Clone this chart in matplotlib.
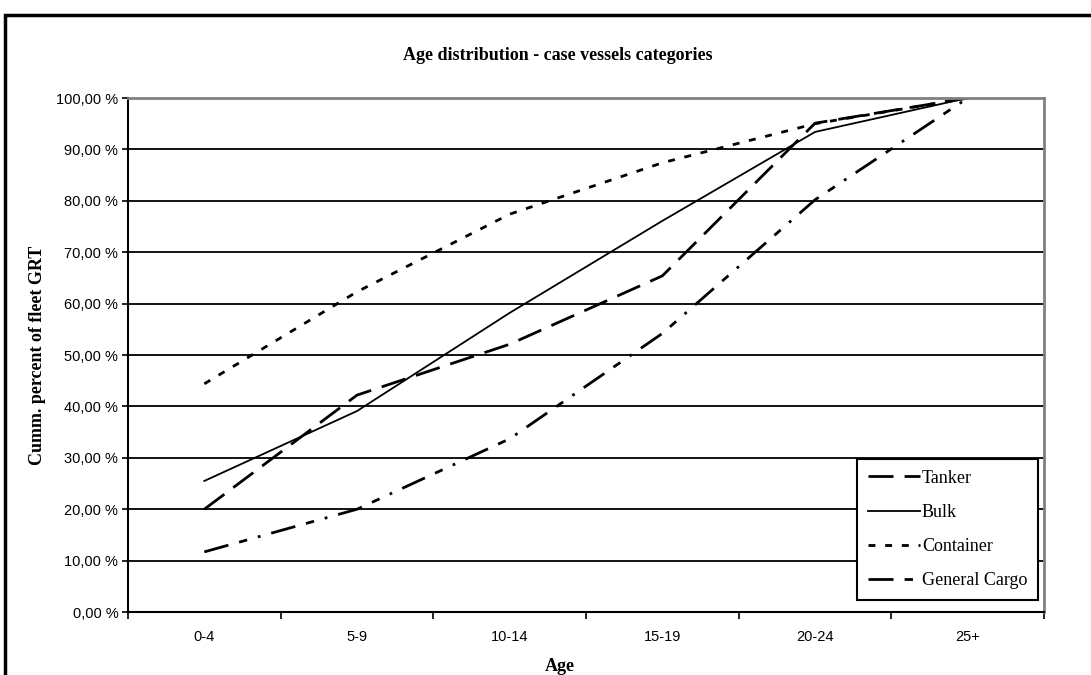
import numpy as np
from matplotlib import pyplot as plt
from matplotlib.patches import Rectangle
from matplotlib.ticker import FuncFormatter

ages = ['0-4', '5-9', '10-14', '15-19', '20-24', '25+']
tanker = [20.0, 42.2, 52.1, 65.4, 95.1, 100.0]
bulk = [25.5, 39.1, 58.2, 76.1, 93.4, 100.0]
container = [44.4, 62.3, 77.4, 87.4, 95.0, 100.0]
general_cargo = [11.7, 20.0, 33.7, 54.2, 80.2, 100.0]

fig = plt.figure(figsize=(10.91, 6.75), dpi=100)
ax = fig.add_axes([0.1173, 0.0933, 0.8397, 0.7615])

x = np.arange(len(ages))
ax.plot(x, tanker, color='black', lw=2.0, dashes=(9, 4), label='Tanker')
ax.plot(x, bulk, color='black', lw=1.3, label='Bulk')
ax.plot(x, container, color='black', lw=2.0, dashes=(2.5, 3.5), label='Container')
ax.plot(x, general_cargo, color='black', lw=2.0, dashes=(9, 4, 3, 4, 1, 4), label='General Cargo')

ax.set_xlim(-0.5, len(ages) - 0.5)
ax.set_ylim(0, 100)
ax.set_yticks(np.arange(0, 101, 10))
ax.yaxis.set_major_formatter(FuncFormatter(lambda v, p: ('%.2f %%' % v).replace('.', ',')))
ax.set_xticks(x)
ax.set_xticklabels(ages)
ax.set_xticks(np.arange(-0.5, len(ages), 1), minor=True)
ax.tick_params(axis='x', which='major', length=0, pad=13, labelsize=10.5)
ax.tick_params(axis='x', which='minor', length=5, width=1.2, direction='out')
ax.tick_params(axis='y', length=4, width=1.2, direction='out', labelsize=10.5, pad=3)
for lab in ax.get_xticklabels() + ax.get_yticklabels():
    lab.set_fontfamily('Liberation Sans')

ax.grid(axis='y', color='black', lw=1.3)
ax.set_axisbelow(True)
for side in ['top', 'right']:
    ax.spines[side].set_color('gray')
    ax.spines[side].set_linewidth(2.0)
for side in ['left', 'bottom']:
    ax.spines[side].set_color('black')
    ax.spines[side].set_linewidth(1.5)

# title and axis titles are centred on the whole chart area, not the plot
serif = 'Liberation Serif'
fig.text(0.5115, 0.918, 'Age distribution - case vessels categories', fontfamily=serif,
         fontweight='bold', fontsize=13, ha='center', va='center')
ax.set_xlabel('Age', fontfamily=serif, fontweight='bold', fontsize=13)
ax.xaxis.set_label_coords(0.4716, -0.09)
ax.set_ylabel('Cumm. percent of fleet GRT', fontfamily=serif, fontweight='bold',
              fontsize=13, labelpad=7)

leg = ax.legend(loc='lower right', bbox_to_anchor=(0.9934, 0.0233),
                prop={'family': serif, 'size': 13}, handlelength=2.9,
                handletextpad=0.1, labelspacing=0.95, borderpad=0.6,
                borderaxespad=0, fancybox=False, framealpha=1, edgecolor='black')
leg.get_frame().set_linewidth(1.5)

fig.patches.append(Rectangle((0.0046, -0.05), 1.1, 0.9778 + 0.05,
                             transform=fig.transFigure, fill=False,
                             edgecolor='black', lw=2.5))

fig.savefig('out.png', dpi=100)
